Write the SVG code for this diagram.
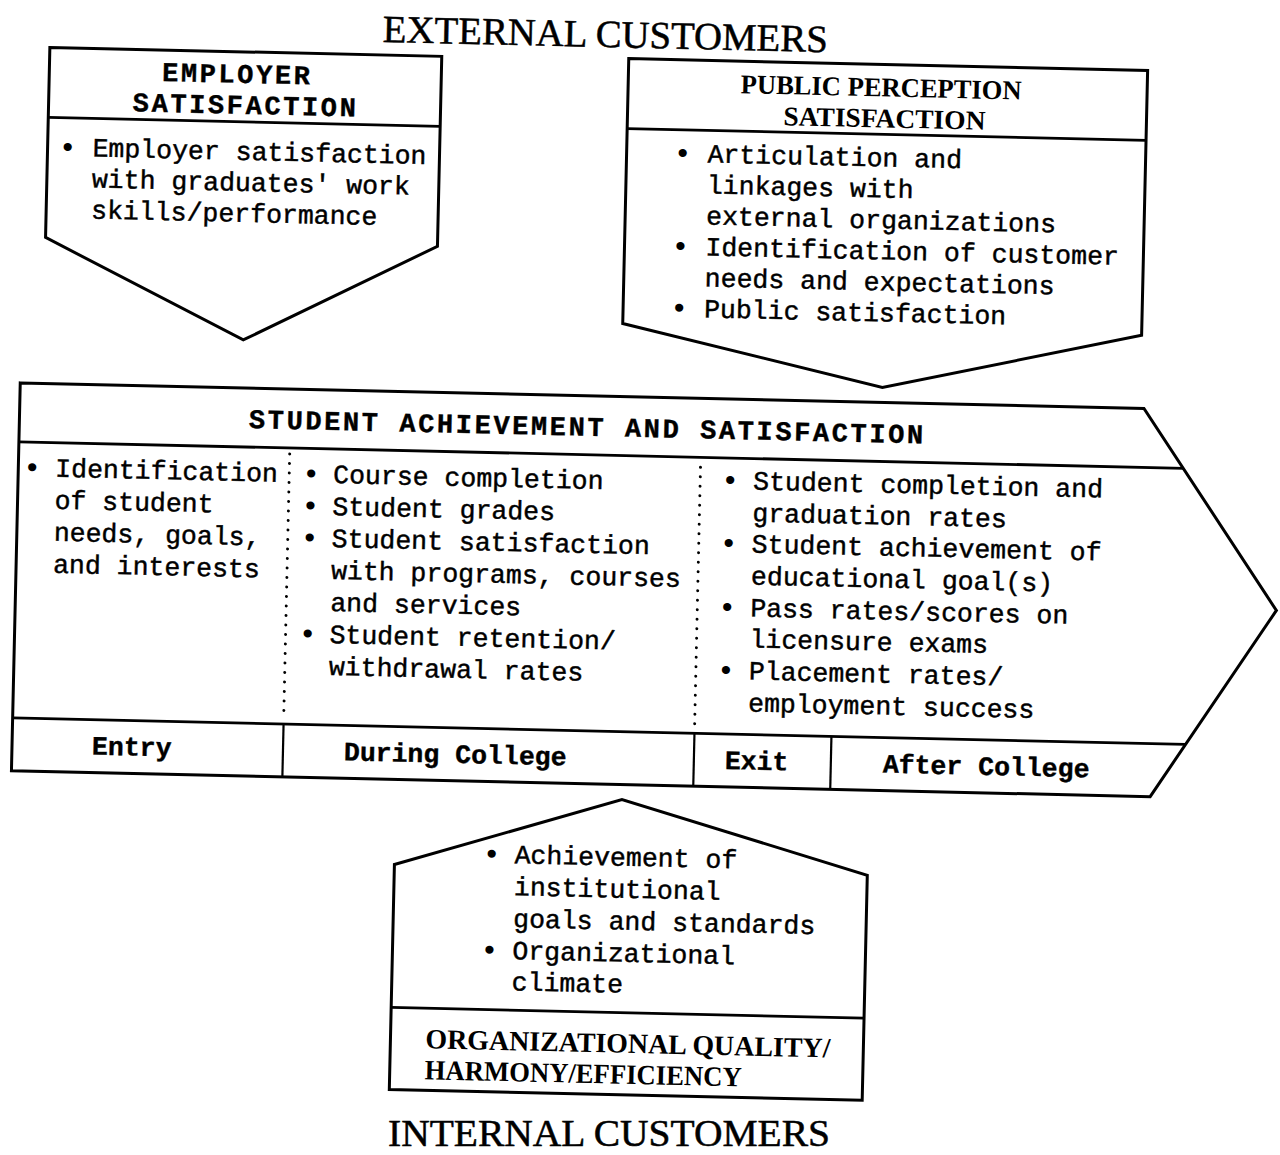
<svg xmlns="http://www.w3.org/2000/svg" width="1280" height="1155" viewBox="0 0 1280 1155">
<style>
.box{fill:#fff;stroke:#000;stroke-width:3;stroke-linejoin:miter}
.div{stroke:#000;stroke-width:2.8;fill:none}
.vdiv{stroke:#000;stroke-width:2.2;fill:none}
.dot{stroke:#000;stroke-width:3;stroke-linecap:round;stroke-dasharray:0 9.5;fill:none}
.m{font-family:"Liberation Mono","Courier New",monospace;font-size:26.5px;fill:#000;stroke:#000;stroke-width:0.45}
.mb{font-family:"Liberation Mono","Courier New",monospace;font-size:26.5px;font-weight:bold;fill:#000;stroke:#000;stroke-width:0.4}
.h{font-family:"Liberation Mono","Courier New",monospace;font-size:27px;font-weight:bold;letter-spacing:2.6px;fill:#000;stroke:#000;stroke-width:0.4}
.b{font-family:"Liberation Mono","Courier New",monospace;font-size:30px;fill:#000}
.sb{font-family:"Liberation Serif","Times New Roman",serif;font-weight:bold;fill:#000}
.st{font-family:"Liberation Serif","Times New Roman",serif;fill:#000;stroke:#000;stroke-width:0.5}
</style>
<rect width="1280" height="1155" fill="#fff"/>
<g transform="rotate(1.3 640 577)">
<g id="title-external">
<text class="st" x="593" y="48" font-size="38.5" text-anchor="middle" textLength="445" lengthAdjust="spacingAndGlyphs">EXTERNAL CUSTOMERS</text>
</g>
<g id="employer">
<polygon class="box" points="38,61 430,61 430,251 238,349 38,251"/>
<line class="div" x1="38" y1="131" x2="430" y2="131"/>
<text class="h" x="226" y="92" text-anchor="middle">EMPLOYER</text>
<text class="h" x="235" y="123" text-anchor="middle">SATISFACTION</text>
<text class="b" x="49" y="170">•</text>
<text class="m" x="83" y="169">Employer satisfaction</text>
<text class="m" x="83" y="200">with graduates' work</text>
<text class="m" x="83" y="231">skills/performance</text>
</g>
<g id="public">
<polygon class="box" points="617,59 1136,59 1136,324 878,382 617,324"/>
<line class="div" x1="617" y1="129" x2="1136" y2="129"/>
<text class="sb" x="870" y="91" font-size="27" text-anchor="middle" textLength="281" lengthAdjust="spacingAndGlyphs">PUBLIC PERCEPTION</text>
<text class="sb" x="874" y="122" font-size="27" text-anchor="middle" textLength="202" lengthAdjust="spacingAndGlyphs">SATISFACTION</text>
<text class="b" x="664" y="162">•</text>
<text class="m" x="698" y="161">Articulation and</text>
<text class="m" x="698" y="192">linkages with</text>
<text class="m" x="698" y="223">external organizations</text>
<text class="b" x="664" y="255">•</text>
<text class="m" x="698" y="254">Identification of customer</text>
<text class="m" x="698" y="285">needs and expectations</text>
<text class="b" x="664" y="317">•</text>
<text class="m" x="698" y="316">Public satisfaction</text>
</g>
<g id="student">
<polygon class="box" points="16,397 1140,397 1277,596 1155,785 16,785"/>
<line class="div" x1="16" y1="456" x2="1181" y2="456"/>
<line class="div" x1="16" y1="732" x2="1189" y2="732"/>
<line class="dot" x1="287" y1="462" x2="287" y2="728"/>
<line class="dot" x1="698" y1="466" x2="698" y2="728"/>
<line class="vdiv" x1="287" y1="732" x2="287" y2="785"/>
<line class="vdiv" x1="698" y1="732" x2="698" y2="785"/>
<line class="vdiv" x1="835" y1="732" x2="835" y2="785"/>
<text class="h" x="584" y="437" text-anchor="middle" letter-spacing="2.8">STUDENT ACHIEVEMENT AND SATISFACTION</text>
<text class="b" x="21" y="491">•</text>
<text class="m" x="53" y="490">Identification</text>
<text class="m" x="53" y="522">of student</text>
<text class="m" x="53" y="554">needs, goals,</text>
<text class="m" x="53" y="586">and interests</text>
<text class="b" x="300" y="491">•</text>
<text class="m" x="331" y="490">Course completion</text>
<text class="b" x="300" y="523">•</text>
<text class="m" x="331" y="522">Student grades</text>
<text class="b" x="300" y="555">•</text>
<text class="m" x="331" y="554">Student satisfaction</text>
<text class="m" x="331" y="586">with programs, courses</text>
<text class="m" x="331" y="618">and services</text>
<text class="b" x="300" y="651">•</text>
<text class="m" x="331" y="650">Student retention/</text>
<text class="m" x="331" y="682">withdrawal rates</text>
<text class="b" x="719" y="488">•</text>
<text class="m" x="751" y="487">Student completion and</text>
<text class="m" x="751" y="519">graduation rates</text>
<text class="b" x="719" y="551">•</text>
<text class="m" x="751" y="550">Student achievement of</text>
<text class="m" x="751" y="582">educational goal(s)</text>
<text class="b" x="719" y="615">•</text>
<text class="m" x="751" y="614">Pass rates/scores on</text>
<text class="m" x="751" y="645">licensure exams</text>
<text class="b" x="719" y="678">•</text>
<text class="m" x="751" y="677">Placement rates/</text>
<text class="m" x="751" y="709">employment success</text>
<text class="mb" x="96" y="767">Entry</text>
<text class="mb" x="348" y="767">During College</text>
<text class="mb" x="729" y="767">Exit</text>
<text class="mb" x="887" y="767">After College</text>
</g>
<g id="internal">
<polygon class="box" points="401,870 627,800 874,870 874,1095 401,1095"/>
<line class="div" x1="401" y1="1013" x2="874" y2="1013"/>
<text class="b" x="489" y="867">•</text>
<text class="m" x="521" y="866">Achievement of</text>
<text class="m" x="521" y="898">institutional</text>
<text class="m" x="521" y="930">goals and standards</text>
<text class="b" x="489" y="963">•</text>
<text class="m" x="521" y="962">Organizational</text>
<text class="m" x="521" y="993">climate</text>
<text class="sb" x="436" y="1053" font-size="28" textLength="405" lengthAdjust="spacingAndGlyphs">ORGANIZATIONAL QUALITY/</text>
<text class="sb" x="436" y="1084" font-size="28" textLength="317" lengthAdjust="spacingAndGlyphs">HARMONY/EFFICIENCY</text>
</g>
</g>
<g id="title-internal">
<text class="st" x="609" y="1146" font-size="38" text-anchor="middle" textLength="442" lengthAdjust="spacingAndGlyphs">INTERNAL CUSTOMERS</text>
</g>
</svg>
